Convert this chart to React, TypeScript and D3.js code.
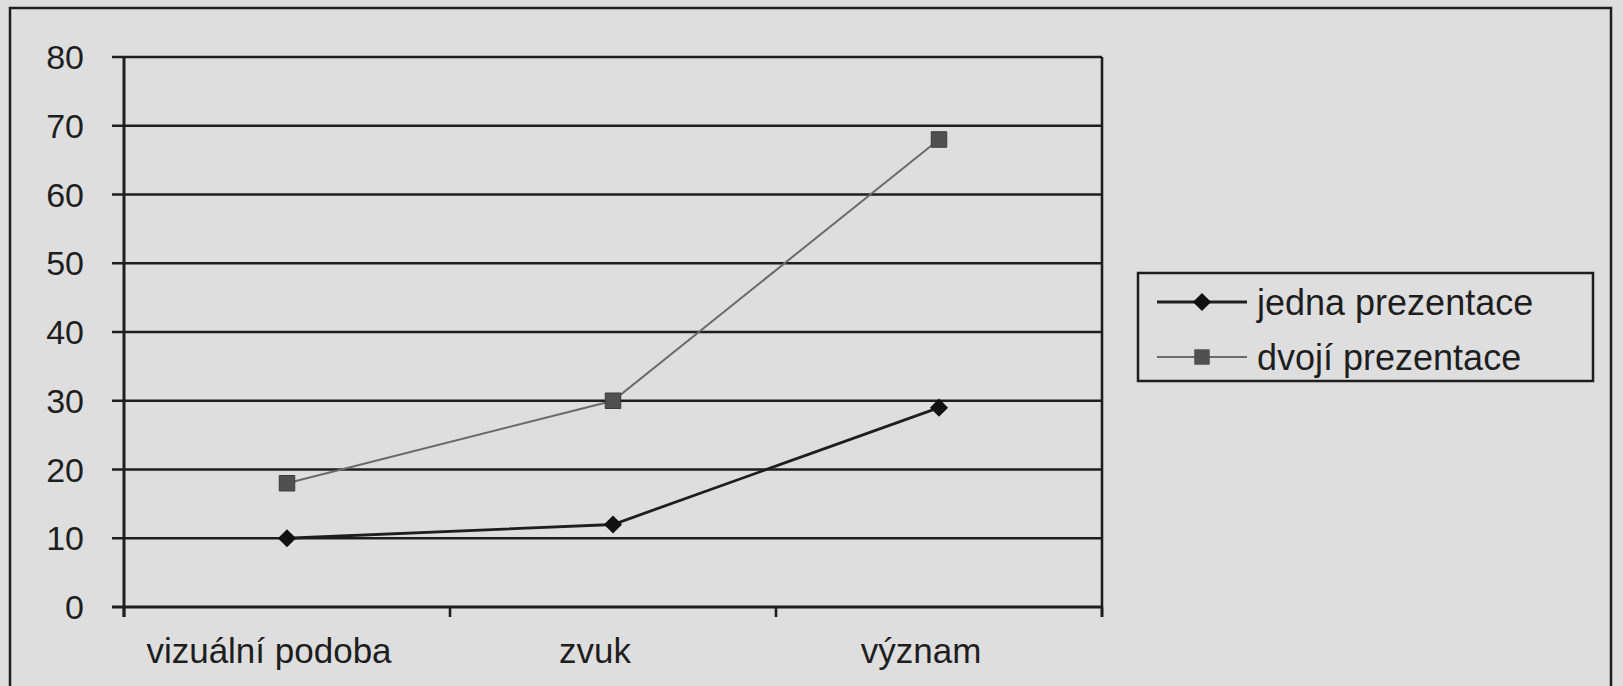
import * as d3 from 'd3';

const categories = ['vizuální podoba', 'zvuk', 'význam'];
const jednaValues = [10, 12, 29];
const dvojiValues = [18, 30, 68];
const yTicks = [0, 10, 20, 30, 40, 50, 60, 70, 80];
const seriesNames = ['jedna prezentace', 'dvojí prezentace'];

const W = 1623;
const H = 686;
const ink = '#1e1e1e';
const font = 'Liberation Sans, Arial, sans-serif';

export default function App() {
  const plot = { left: 124, right: 1102, top: 57, bottom: 607 };

  const x = d3
    .scaleBand<string>()
    .domain(categories)
    .range([plot.left, plot.right])
    .paddingInner(0)
    .paddingOuter(0);
  const y = d3.scaleLinear().domain([0, 80]).range([plot.bottom, plot.top]);

  const cx = (c: string) => (x(c) ?? 0) + x.bandwidth() / 2;

  const line = d3
    .line<number>()
    .x((_, i) => cx(categories[i]))
    .y((d) => y(d));

  // category boundary ticks
  const catTicks = [...categories.map((c) => x(c) ?? 0), plot.right];

  const diamond = d3.symbol(d3.symbolDiamond2 ?? d3.symbolDiamond, 210)();
  const square = d3.symbol(d3.symbolSquare, 240)();

  return (
    <svg
      width={W}
      height={H}
      style={{ position: 'absolute', left: 0, top: 0, background: '#dedede' }}
    >
      {/* page frame */}
      <rect x={10} y={8} width={1601} height={700} fill="none" stroke={ink} strokeWidth={2.5} />

      {/* gridlines + y ticks */}
      {yTicks.map((t) => (
        <g key={t}>
          <line
            x1={plot.left - 12}
            x2={plot.right}
            y1={y(t)}
            y2={y(t)}
            stroke={ink}
            strokeWidth={t === 0 ? 3 : 2.6}
          />
          <text
            x={84}
            y={y(t)}
            dy="0.36em"
            textAnchor="end"
            fontFamily={font}
            fontSize={34}
            fill={ink}
          >
            {t}
          </text>
        </g>
      ))}

      {/* y axis */}
      <line x1={plot.left} x2={plot.left} y1={plot.top} y2={plot.bottom + 10} stroke={ink} strokeWidth={3} />
      {/* plot right border */}
      <line x1={plot.right} x2={plot.right} y1={plot.top} y2={plot.bottom + 10} stroke={ink} strokeWidth={2.6} />

      {/* x category ticks */}
      {catTicks.map((tx, i) => (
        <line key={i} x1={tx} x2={tx} y1={plot.bottom} y2={plot.bottom + 10} stroke={ink} strokeWidth={2.6} />
      ))}
      {categories.map((c) => (
        <text
          key={c}
          x={cx(c) - 18}
          y={663}
          textAnchor="middle"
          fontFamily={font}
          fontSize={35}
          fill={ink}
        >
          {c}
        </text>
      ))}

      {/* dvojí prezentace */}
      <path d={line(dvojiValues) ?? ''} fill="none" stroke="#6a6a6a" strokeWidth={2} />
      {dvojiValues.map((v, i) => (
        <path key={i} d={square ?? ''} transform={`translate(${cx(categories[i])},${y(v)})`} fill="#505050" stroke="#3a3a3a" strokeWidth={1} />
      ))}

      {/* jedna prezentace */}
      <path d={line(jednaValues) ?? ''} fill="none" stroke={ink} strokeWidth={2.8} />
      {jednaValues.map((v, i) => (
        <path key={i} d={diamond ?? ''} transform={`translate(${cx(categories[i])},${y(v)})`} fill="#111" />
      ))}

      {/* legend */}
      <g>
        <rect x={1138} y={273} width={455} height={108} fill="none" stroke={ink} strokeWidth={2.5} />
        {seriesNames.map((name, i) => {
          const ly = 302 + i * 55;
          return (
            <g key={name}>
              <line
                x1={1157}
                x2={1247}
                y1={ly}
                y2={ly}
                stroke={i === 0 ? ink : '#6a6a6a'}
                strokeWidth={i === 0 ? 2.8 : 2}
              />
              <path
                d={(i === 0 ? diamond : square) ?? ''}
                transform={`translate(1202,${ly})`}
                fill={i === 0 ? '#111' : '#505050'}
              />
              <text x={1257} y={ly} dy="0.36em" fontFamily={font} fontSize={36} fill={ink}>
                {name}
              </text>
            </g>
          );
        })}
      </g>
    </svg>
  );
}
